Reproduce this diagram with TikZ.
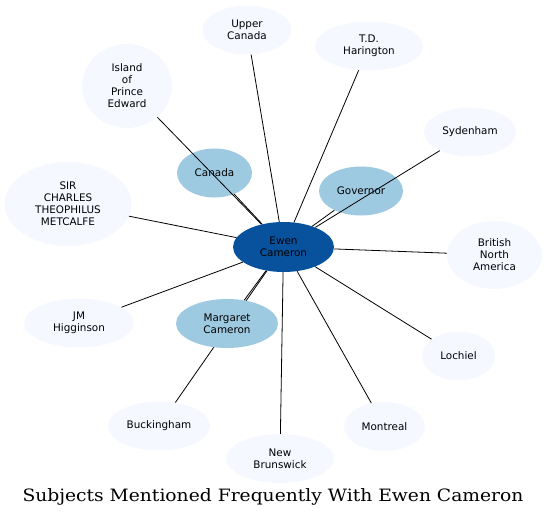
\documentclass[tikz,border=0pt]{standalone}
\usepackage{fontspec}
\newfontfamily\graphfont{DejaVu Sans}
\newfontfamily\titlefont[FakeStretch=1.1]{DejaVu Serif}
\usetikzlibrary{shapes.geometric,backgrounds}
\definecolor{CoreBlue}{HTML}{08519C}
\definecolor{MidBlue}{HTML}{9ECAE1}
\definecolor{PaleBlue}{HTML}{F5F9FF}

\begin{document}
\begin{tikzpicture}[x=1pt, y=-1pt,
  subject/.style={ellipse, fill=PaleBlue, inner sep=0pt, align=center,
    minimum width=#1, minimum height=49, font=\graphfont\fontsize{10.4}{12}\selectfont},
  subject/.default=90,
  keysubject/.style={subject=#1, fill=MidBlue},
  link/.style={line width=0.8pt, black}
]
\useasboundingbox (0,0) rectangle (547,519);
\node[subject=101, fill=CoreBlue, minimum height=50] (ewen) at (283.5,247) {Ewen\\Cameron};
\node[subject=89] (upper) at (247,30) {Upper\\Canada};
\node[subject=108] (harington) at (369,46) {T.D.\\Harington};
\node[subject=90, minimum height=84] (island) at (127,86) {Island\\of\\Prince\\Edward};
\node[subject=92] (sydenham) at (470,132) {Sydenham};
\node[keysubject=75] (canada) at (214.5,173) {Canada};
\node[keysubject=84] (governor) at (361,191) {Governor};
\node[subject=127, minimum height=84] (metcalfe) at (68,204) {SIR\\CHARLES\\THEOPHILUS\\METCALFE};
\node[subject=95, minimum height=68] (bna) at (494.5,255) {British\\North\\America};
\node[subject=110] (higginson) at (79,323) {JM\\Higginson};
\node[keysubject=102] (margaret) at (227,323.5) {Margaret\\Cameron};
\node[subject=73] (lochiel) at (458.5,356) {Lochiel};
\node[subject=102] (buckingham) at (159,426) {Buckingham};
\node[subject=81] (montreal) at (384.5,426.5) {Montreal};
\node[subject=108] (brunswick) at (280,458.5) {New\\Brunswick};
\node[font=\titlefont\fontsize{17}{20}\selectfont] (title) at (273,497) {Subjects Mentioned Frequently With Ewen Cameron};

\foreach \other in {upper,harington,island,sydenham,canada,governor,metcalfe,bna,higginson,margaret,lochiel,montreal,brunswick}
  \draw[link] (ewen) -- (\other);
\begin{scope}[on background layer]
\draw[link] (ewen) -- (buckingham);
\end{scope}
\end{tikzpicture}
\end{document}
